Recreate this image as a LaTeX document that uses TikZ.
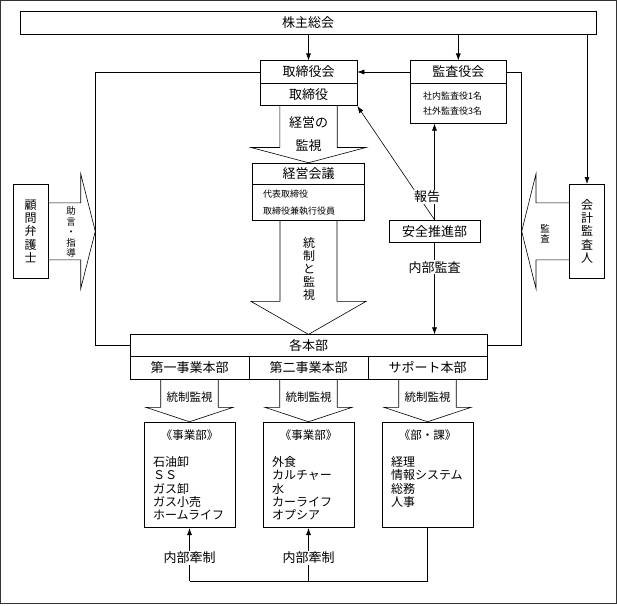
\documentclass[tikz,border=0pt]{standalone}
\usepackage{fontspec}
\setmainfont{Noto Sans CJK JP}
\usetikzlibrary{arrows.meta}

% wide arrow pointing down: start, tip, half shaft, half head, head length
\newcommand{\blockdown}[5]{%
  \draw ([xshift=-#3]#1) -- ([xshift=-#3,yshift=#5]#2) -- ([xshift=-#4,yshift=#5]#2)
    -- (#2) -- ([xshift=#4,yshift=#5]#2) -- ([xshift=#3,yshift=#5]#2) -- ([xshift=#3]#1);}

\begin{document}
\begin{tikzpicture}[x=1pt,y=-1pt,line width=0.6pt,>={Latex[length=7pt,width=5pt]},
box/.style={draw,rectangle,inner sep=0pt,minimum height=22.5pt,font=\fontsize{13}{15}\selectfont},
listbox/.style={draw,rectangle,align=left,inner ysep=0pt,font=\fontsize{9}{15}\selectfont},
lbl/.style={fill=white,inner sep=1pt,font=\fontsize{13}{15}\selectfont},
vtext/.style={align=center,inner sep=0pt,font=\fontsize{12}{13.2}\selectfont},
vsmall/.style={align=center,inner sep=0pt,font=\fontsize{9.5}{10.4}\selectfont},
ctrl/.style={inner sep=0pt,font=\fontsize{11.5}{13}\selectfont},
item/.style={align=left,inner sep=0pt,font=\fontsize{12}{13.3}\selectfont}]
\useasboundingbox (0,0) rectangle (617,605);
\draw[black!80] (0.5,0.5) rectangle (616.5,603.5);

% top part
\node[box,minimum width=576pt] (kabunushi) at (308,23) {株主総会};
\node[box,minimum width=97pt] (trkai) at (308.5,72) {取締役会};
\node[box,minimum width=97pt] (trk) at (308.5,94.5) {取締役};
\node[box,minimum width=95.4pt] (kansa) at (458.3,72) {監査役会};
\node[listbox,text width=70.6pt,inner xsep=12.4pt,minimum height=40pt] (kansain) at (458.3,103.3) {社内監査役1名\\社外監査役3名};
\node[box,minimum width=112pt,minimum height=21.3pt] (kaigi) at (308.5,173.7) {経営会議};
\node[listbox,text width=90.8pt,inner xsep=10.6pt,minimum height=36.4pt,font=\fontsize{9}{16.4}\selectfont] (kaigiin) at (308.5,202.5) {代表取締役\\取締役兼執行役員};
\node[box,minimum width=91pt,minimum height=22.3pt] (anzen) at (434.5,231.2) {安全推進部};
\node[box,vtext,minimum width=35pt,minimum height=94pt] (komon) at (30.5,231.3) {顧\\問\\弁\\護\\士};
\node[box,vtext,minimum width=34.6pt,minimum height=94pt] (kaikei) at (587,231.3) {会\\計\\監\\査\\人};

% honbu
\node[box,minimum width=357pt,minimum height=22pt] (kakuhonbu) at (308.5,345.7) {各本部};
\node[box,minimum width=119pt,minimum height=22.6pt] (hon1) at (189.5,368) {第一事業本部};
\node[box,minimum width=119pt,minimum height=22.6pt] (hon2) at (308.5,368) {第二事業本部};
\node[box,minimum width=119pt,minimum height=22.6pt] (hon3) at (427.5,368) {サポート本部};

% bu
\foreach \i/\x in {1/189.5,2/308.5,3/427.5}
  \node[draw,rectangle,inner sep=0pt,minimum width=91pt,minimum height=105.7pt] (bu\i) at (\x,474.9) {};
\node[ctrl] (head1) at ([yshift=-13.7pt]bu1.north) {《事業部》};
\node[ctrl] (head2) at ([yshift=-13.7pt]bu2.north) {《事業部》};
\node[ctrl] (head3) at ([yshift=-13.7pt]bu3.north) {《部・課》};
\node[item,anchor=north west] (items1) at ([xshift=9pt,yshift=-34.3pt]bu1.north west) {石油卸\\ＳＳ\\ガス卸\\ガス小売\\ホームライフ};
\node[item,anchor=north west] (items2) at ([xshift=9pt,yshift=-34.3pt]bu2.north west) {外食\\カルチャー\\水\\カーライフ\\オプシア};
\node[item,anchor=north west] (items3) at ([xshift=9pt,yshift=-34.3pt]bu3.north west) {経理\\情報システム\\総務\\人事};

% wide arrows
\blockdown{trk.south}{kaigi.north}{28.7pt}{57.6pt}{15.3pt}
\node[align=center,inner sep=0pt,font=\fontsize{13}{15}\selectfont] (kanshi) at (308.5,134.2) {経営の\\[8pt]監視};
\blockdown{kaigiin.south}{kakuhonbu.north}{28.5pt}{57.5pt}{33pt}
\node[vtext] (toseito) at (309,269) {統\\制\\と\\監\\視};
\foreach \i in {1,2,3} {
  \blockdown{hon\i.south}{bu\i.north}{28.75pt}{43.5pt}{14.4pt}
  \node[ctrl] (tk\i) at ([yshift=-17.4pt]hon\i.south) {統制監視};
}
\coordinate (ltip) at (95.3,231.3);
\draw ([yshift=28.5pt]komon.east) -- ([xshift=-14.6pt,yshift=28.5pt]ltip) -- ([xshift=-14.6pt,yshift=57.5pt]ltip)
  -- (ltip) -- ([xshift=-14.6pt,yshift=-57.5pt]ltip) -- ([xshift=-14.6pt,yshift=-28.5pt]ltip) -- ([yshift=-28.5pt]komon.east);
\node[vsmall] (jogen) at (71,232) {助\\言\\・\\指\\導};
\coordinate (rtip) at (521.7,231.3);
\draw ([yshift=28.5pt]kaikei.west) -- ([xshift=14.3pt,yshift=28.5pt]rtip) -- ([xshift=14.3pt,yshift=57.5pt]rtip)
  -- (rtip) -- ([xshift=14.3pt,yshift=-57.5pt]rtip) -- ([xshift=14.3pt,yshift=-28.5pt]rtip) -- ([yshift=-28.5pt]kaikei.west);
\node[vsmall] (kansalbl) at (545,234) {監\\査};

% connectors
\draw[->] (kabunushi.south -| trkai.north) -- (trkai.north);
\draw[->] (kabunushi.south -| kansa.north) -- (kansa.north);
\draw[->] (kabunushi.south -| kaikei.north) -- (kaikei.north);
\draw[->] (kansa.west) -- (trkai.east);
\draw (trkai.west) -| (ltip) |- (kakuhonbu.west);
\draw (kansa.east) -| (rtip) |- (kakuhonbu.east);
\draw[->] (anzen.north) -- (trk.south east);
\draw[->] (anzen.north) -- (anzen.north |- kansain.south);
\node[lbl] (hokoku) at (427,197) {報告};
\draw[->] (anzen.south) -- node[lbl,pos=0.27] (naibukansa) {内部監査} (anzen.south |- kakuhonbu.north);

\coordinate (kensei) at (308.5,581);
\draw (bu3.south) |- (bu1.south |- kensei);
\foreach \i in {1,2}
  \draw[->] (bu\i.south |- kensei) -- node[lbl,pos=0.44] (ks\i) {内部牽制} (bu\i.south);
\end{tikzpicture}
\end{document}
